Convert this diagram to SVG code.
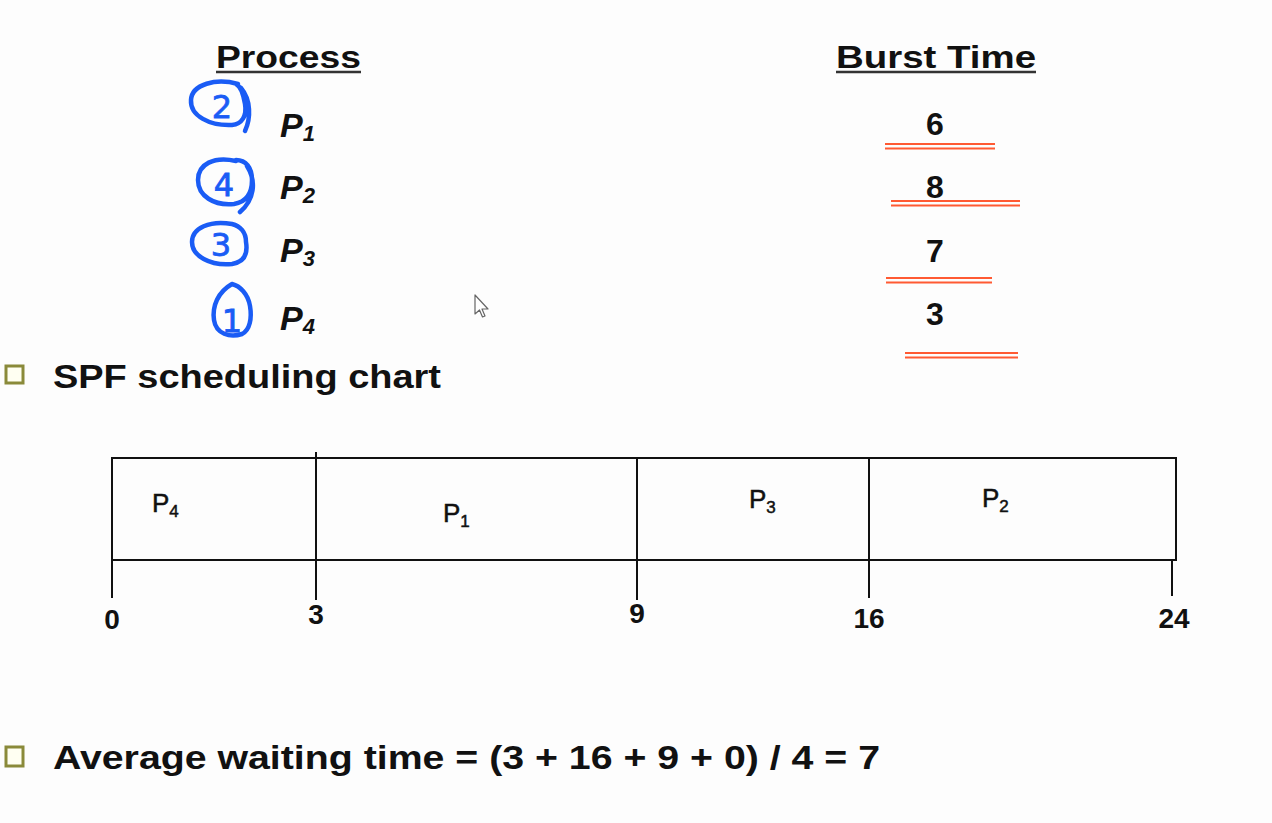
<svg xmlns="http://www.w3.org/2000/svg" width="1272" height="823" viewBox="0 0 1272 823">
<style>
.hd{font-family:"Liberation Sans",Arial,sans-serif;font-weight:bold;font-size:32px;fill:#111;}
.pi{font-family:"Liberation Sans",Arial,sans-serif;font-weight:bold;font-style:italic;font-size:34px;fill:#111;}
.num{font-family:"Liberation Sans",Arial,sans-serif;font-weight:bold;font-size:32px;fill:#111;text-anchor:middle;}
.bul{font-family:"Liberation Sans",Arial,sans-serif;font-weight:bold;font-size:33px;fill:#111;}
.lbl{font-family:"Liberation Sans",Arial,sans-serif;font-size:26px;fill:#111;stroke:#111;stroke-width:0.5;}
.tick{font-family:"Liberation Sans",Arial,sans-serif;font-weight:bold;font-size:28px;fill:#111;text-anchor:middle;}
.red{stroke:#ff5a33;stroke-width:2.2;fill:none;}
.ln{stroke:#111;stroke-width:2;fill:none;}
.hw{stroke:#1a5cf5;stroke-width:4.5;fill:none;stroke-linecap:round;stroke-linejoin:round;}
.hwt{font-family:"DejaVu Sans",sans-serif;font-size:32px;fill:#1a5cf5;text-anchor:middle;stroke:#1a5cf5;stroke-width:0.8;}
.box{fill:#fffff2;stroke:#8a8a3a;stroke-width:3;}
</style>
<rect width="1272" height="823" fill="#fdfdfd"/>

<g id="header-process">
<text class="hd" x="216" y="68" textLength="145" lengthAdjust="spacingAndGlyphs">Process</text>
<line x1="216" y1="72" x2="361" y2="72" stroke="#333" stroke-width="2.5"/>
</g>
<g id="header-burst">
<text class="hd" x="836" y="68" textLength="200" lengthAdjust="spacingAndGlyphs">Burst Time</text>
<line x1="836" y1="72" x2="1036" y2="72" stroke="#333" stroke-width="2.5"/>
</g>

<g id="handwriting">
<path class="hw" d="M238 84 C216 78 192 84 191 100 C190 116 210 126 232 125 C242 124 247 116 245 104 C243 92 240 86 236 84 M241 88 C251 100 251 118 245 131"/>
<text class="hwt" x="222" y="118">2</text>
<path class="hw" d="M236 161 C214 156 198 164 198 180 C198 196 214 206 234 204 C246 202 252 194 252 180 C252 168 246 160 236 160 M247 166 C257 182 254 200 240 212"/>
<text class="hwt" x="224" y="196">4</text>
<path class="hw" d="M232 224 C210 220 192 228 192 242 C192 256 210 266 232 264 C244 262 248 254 246 242 C246 232 240 226 232 224"/>
<text class="hwt" x="221" y="256">3</text>
<path class="hw" d="M232 284 C218 292 212 306 214 320 C216 334 230 338 242 334 C250 330 252 318 250 306 C248 294 240 286 232 284"/>
<text class="hwt" x="232" y="332">1</text>
</g>

<g id="p1"><text class="pi" x="280" y="137">P<tspan font-size="22" dy="4">1</tspan></text></g>
<g id="p2"><text class="pi" x="280" y="199">P<tspan font-size="22" dy="4">2</tspan></text></g>
<g id="p3"><text class="pi" x="280" y="262">P<tspan font-size="22" dy="4">3</tspan></text></g>
<g id="p4"><text class="pi" x="280" y="330">P<tspan font-size="22" dy="4">4</tspan></text></g>

<g id="b1"><text class="num" x="935" y="135">6</text>
<path class="red" d="M885 144 H995 M885 148.5 H995"/></g>
<g id="b2"><text class="num" x="935" y="198">8</text>
<path class="red" d="M891 201 H1020 M891 205.5 H1020"/></g>
<g id="b3"><text class="num" x="935" y="262">7</text>
<path class="red" d="M886 278 H992 M886 282.5 H992"/></g>
<g id="b4"><text class="num" x="935" y="325">3</text>
<path class="red" d="M905 353 H1018 M905 357.5 H1018"/></g>

<g id="cursor">
<path d="M475 295 L475 314 L479.5 310 L482.5 317 L485 316 L482 309 L488 309 Z" fill="#fff" stroke="#666" stroke-width="1.2" stroke-linejoin="round"/>
</g>

<g id="bullet-spf">
<rect class="box" x="6" y="366" width="17" height="17"/>
<text class="bul" x="53" y="388" textLength="388" lengthAdjust="spacingAndGlyphs">SPF scheduling chart</text>
</g>

<g id="chart">
<rect class="ln" x="112" y="458" width="1064" height="102"/>
<line class="ln" x1="112" y1="560" x2="112" y2="598"/>
<line class="ln" x1="316" y1="452" x2="316" y2="600"/>
<line class="ln" x1="637" y1="458" x2="637" y2="600"/>
<line class="ln" x1="869" y1="458" x2="869" y2="598"/>
<line class="ln" x1="1172" y1="560" x2="1172" y2="596"/>
</g>
<g id="seg-p4"><text class="lbl" x="152" y="512">P<tspan font-size="17" dy="5">4</tspan></text></g>
<g id="seg-p1"><text class="lbl" x="443" y="522">P<tspan font-size="17" dy="5">1</tspan></text></g>
<g id="seg-p3"><text class="lbl" x="749" y="508">P<tspan font-size="17" dy="5">3</tspan></text></g>
<g id="seg-p2"><text class="lbl" x="982" y="507">P<tspan font-size="17" dy="5">2</tspan></text></g>

<g id="ticks">
<text class="tick" x="112" y="629">0</text>
<text class="tick" x="316" y="624">3</text>
<text class="tick" x="637" y="623">9</text>
<text class="tick" x="869" y="628">16</text>
<text class="tick" x="1174" y="628">24</text>
</g>

<g id="bullet-avg">
<rect class="box" x="6" y="747" width="17" height="19"/>
<text class="bul" x="53" y="769" textLength="827" lengthAdjust="spacingAndGlyphs">Average waiting time = (3 + 16 + 9 + 0) / 4 = 7</text>
</g>
</svg>
